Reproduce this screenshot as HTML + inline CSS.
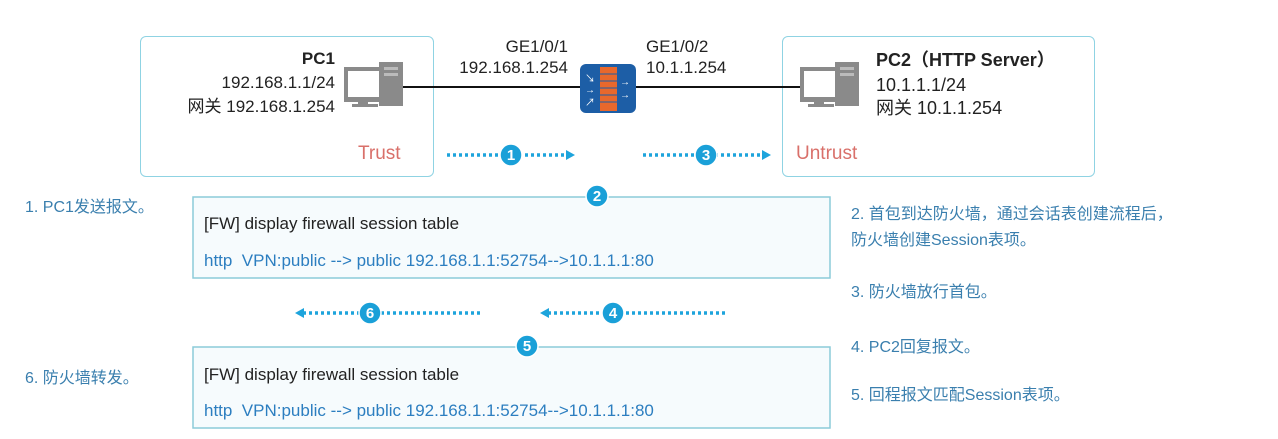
<!DOCTYPE html>
<html><head><meta charset="utf-8"><style>
body{margin:0;width:1278px;height:439px;background:#fff;position:relative;overflow:hidden;font-family:"Liberation Sans","Noto Sans CJK SC",sans-serif;}
.a{position:absolute;white-space:nowrap;line-height:1;}
.box{position:absolute;border:1.5px solid #8fd3e3;border-radius:6px;}
.k{color:#222;font-size:17px;}
.b{color:#2c7ec0;font-size:17px;}
.c{color:#3a7fae;font-size:16px;}
</style></head><body>
<div class="box" style="left:140px;top:36px;width:292px;height:139px"></div>
<div class="box" style="left:782px;top:36px;width:311px;height:139px"></div>
<div class="a k" style="right:943px;top:50px;font-weight:bold">PC1</div>
<div class="a k" style="right:943px;top:74px">192.168.1.1/24</div>
<div class="a k" style="right:943px;top:98px">网关 192.168.1.254</div>
<div class="a" style="left:358px;top:144px;color:#d9706a;font-size:19px">Trust</div>
<div class="a k" style="right:710px;top:38px">GE1/0/1</div>
<div class="a k" style="right:710px;top:59px">192.168.1.254</div>
<div class="a k" style="left:646px;top:38px">GE1/0/2</div>
<div class="a k" style="left:646px;top:59px">10.1.1.254</div>
<div class="a k" style="left:876px;top:51px;font-weight:bold;font-size:18px">PC2（HTTP Server）</div>
<div class="a k" style="left:876px;top:76px;font-size:18px">10.1.1.1/24</div>
<div class="a k" style="left:876px;top:99px;font-size:18px">网关 10.1.1.254</div>
<div class="a" style="left:796px;top:144px;color:#d9706a;font-size:19px">Untrust</div>
<svg class="a" style="left:0;top:0" width="1278" height="439">
<line x1="403" y1="87" x2="800" y2="87" stroke="#111" stroke-width="2"/>
<g id="pc">
<rect x="379" y="62" width="24" height="44" fill="#8a8a8a"/>
<rect x="384" y="67" width="14" height="3" fill="#bbb"/>
<rect x="384" y="73" width="14" height="3" fill="#bbb"/>
<rect x="344" y="67" width="39" height="35" fill="#8a8a8a"/>
<rect x="348" y="71" width="31" height="26" fill="#fff"/>
<rect x="358" y="102" width="10" height="3" fill="#8a8a8a"/>
<rect x="352" y="104" width="26" height="3" fill="#8a8a8a"/>
</g>
<use href="#pc" x="456" y="0"/>
<rect x="580" y="64" width="56" height="49" rx="6" fill="#1d5ea6"/>
<rect x="600" y="67" width="17" height="44" fill="#e8682c"/>
<g stroke="#1d5ea6" stroke-width="1"><line x1="600" y1="74" x2="617" y2="74"/><line x1="600" y1="81" x2="617" y2="81"/><line x1="600" y1="88" x2="617" y2="88"/><line x1="600" y1="95" x2="617" y2="95"/><line x1="600" y1="102" x2="617" y2="102"/></g>
<g fill="#fff" font-size="10"><text x="585" y="82">↘</text><text x="585" y="93">→</text><text x="585" y="106">↗</text><text x="620" y="85">→</text><text x="620" y="98">→</text></g>
<g stroke="#1da4dc" stroke-width="3.5" stroke-dasharray="3 3">
<line x1="447" y1="155" x2="566" y2="155"/><line x1="643" y1="155" x2="762" y2="155"/>
<line x1="303" y1="313" x2="480" y2="313"/><line x1="548" y1="313" x2="725" y2="313"/>
</g>
<g fill="#1da4dc">
<polygon points="566,150 575,155 566,160"/><polygon points="762,150 771,155 762,160"/>
<polygon points="304,308 295,313 304,318"/><polygon points="549,308 540,313 549,318"/>
</g>
<rect x="193" y="197" width="637" height="81" fill="#f6fbfd" stroke="#8ccbd9" stroke-width="1.5"/>
<rect x="193" y="347" width="637" height="81" fill="#f6fbfd" stroke="#8ccbd9" stroke-width="1.5"/>
<g fill="#1aa0d8" stroke="#fff" stroke-width="1.5">
<circle cx="511" cy="155" r="11"/><circle cx="706" cy="155" r="11"/>
<circle cx="597" cy="196" r="11"/><circle cx="370" cy="313" r="11"/>
<circle cx="613" cy="313" r="11"/><circle cx="527" cy="346" r="11"/>
</g>
<g fill="#fff" font-size="15" font-weight="bold" text-anchor="middle" font-family="Liberation Sans">
<text x="511" y="160">1</text><text x="706" y="160">3</text><text x="597" y="201">2</text>
<text x="370" y="318">6</text><text x="613" y="318">4</text><text x="527" y="351">5</text>
</g>
</svg>
<div class="a k" style="left:204px;top:215px">[FW] display firewall session table</div>
<div class="a b" style="left:204px;top:252px">http&nbsp; VPN:public --&gt; public 192.168.1.1:52754--&gt;10.1.1.1:80</div>
<div class="a k" style="left:204px;top:366px">[FW] display firewall session table</div>
<div class="a b" style="left:204px;top:402px">http&nbsp; VPN:public --&gt; public 192.168.1.1:52754--&gt;10.1.1.1:80</div>
<div class="a c" style="left:25px;top:200px">1. PC1发送报文。</div>
<div class="a c" style="left:25px;top:371px">6. 防火墙转发。</div>
<div class="a c" style="left:851px;top:207px">2. 首包到达防火墙，通过会话表创建流程后，</div>
<div class="a c" style="left:851px;top:233px">防火墙创建Session表项。</div>
<div class="a c" style="left:851px;top:285px">3. 防火墙放行首包。</div>
<div class="a c" style="left:851px;top:340px">4. PC2回复报文。</div>
<div class="a c" style="left:851px;top:388px">5. 回程报文匹配Session表项。</div>
</body></html>
